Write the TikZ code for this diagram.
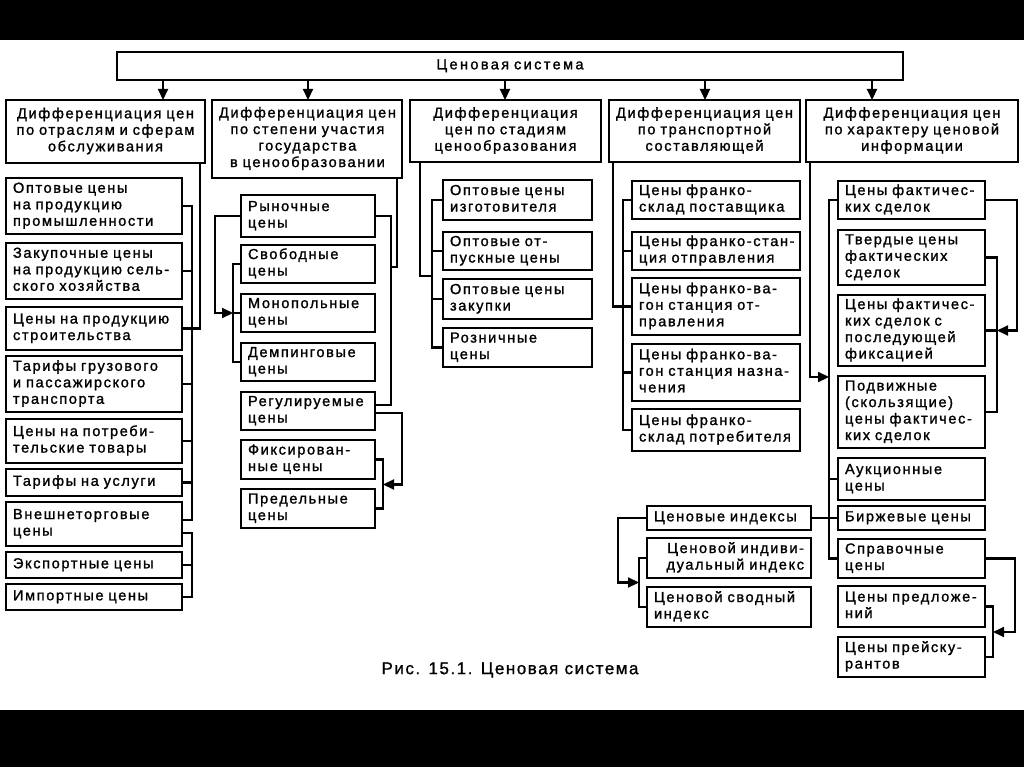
\documentclass[tikz,border=0pt]{standalone}
\usepackage{fontspec}
\setmainfont{Liberation Sans}[LetterSpace=11,FakeBold=1.3]
\newfontfamily\capfont{Liberation Sans}[LetterSpace=9,FakeBold=1]
\newfontfamily\titfont{Liberation Sans}[LetterSpace=16,FakeBold=1.3]
\usetikzlibrary{arrows.meta}
\tikzset{
  box/.style={draw, line width=2.4pt, inner xsep=7pt, inner ysep=2pt, outer sep=0pt,
    font=\fontsize{14.6pt}{16.5pt}\selectfont},
  conn/.style={line width=2.1pt},
  arr/.style={conn, -{Triangle[length=11pt,width=10pt]}},
}
\newcommand\Bx[8]{%
  \pgfmathsetmacro\bw{#4-#2}%
  \pgfmathsetmacro\bh{#5-#3}%
  \pgfmathsetmacro\tw{#4-#2-14}%
  \node[box,align=#6,text width=\tw pt,minimum width=\bw pt,minimum height=\bh pt,anchor=north west]
    (#1) at (#2,#3) {\begin{tabular}{@{}#7@{}}#8\end{tabular}};}
\begin{document}
\begin{tikzpicture}[x=1pt,y=-1pt]
\useasboundingbox (0,0) rectangle (1024,767);
\fill[black] (0,0) rectangle (1024,40);
\fill[black] (0,710) rectangle (1024,767);

\Bx{title}{117}{52}{903}{80}{center}{c}{\titfont Ценовая система}
\Bx{h1}{6}{100}{205}{163}{center}{c}{Дифференциация цен\\по отраслям и сферам\\обслуживания}
\Bx{h2}{212}{100}{402}{178}{center}{c}{Дифференциация цен\\по степени участия\\государства\\в ценообразовании}
\Bx{h3}{410}{100}{601}{162}{center}{c}{Дифференциация\\цен по стадиям\\ценообразования}
\Bx{h4}{609}{100}{800}{162}{center}{c}{Дифференциация цен\\по транспортной\\составляющей}
\Bx{h5}{806}{100}{1018}{162}{center}{c}{Дифференциация цен\\по характеру ценовой\\информации}

% column 1
\Bx{c1a}{6}{178}{182}{234}{left}{l}{Оптовые цены\\на продукцию\\промышленности}
\Bx{c1b}{6}{243}{182}{299}{left}{l}{Закупочные цены\\на продукцию сель-\\ского хозяйства}
\Bx{c1c}{6}{307}{182}{350}{left}{l}{Цены на продукцию\\строительства}
\Bx{c1d}{6}{356}{182}{412}{left}{l}{Тарифы грузового\\и пассажирского\\транспорта}
\Bx{c1e}{6}{419}{182}{463}{left}{l}{Цены на потреби-\\тельские товары}
\Bx{c1f}{6}{469}{182}{496}{left}{l}{Тарифы на услуги}
\Bx{c1g}{6}{502}{182}{546}{left}{l}{Внешнеторговые\\цены}
\Bx{c1h}{6}{552}{182}{578}{left}{l}{Экспортные цены}
\Bx{c1i}{6}{584}{182}{610}{left}{l}{Импортные цены}

% column 2
\Bx{c2a}{241}{195}{375}{237}{left}{l}{Рыночные\\цены}
\Bx{c2b}{241}{245}{375}{283}{left}{l}{Свободные\\цены}
\Bx{c2c}{241}{294}{375}{332}{left}{l}{Монопольные\\цены}
\Bx{c2d}{241}{343}{375}{381}{left}{l}{Демпинговые\\цены}
\Bx{c2e}{241}{392}{375}{430}{left}{l}{Регулируемые\\цены}
\Bx{c2f}{241}{440}{375}{479}{left}{l}{Фиксирован-\\ные цены}
\Bx{c2g}{241}{489}{375}{528}{left}{l}{Предельные\\цены}

% column 3
\Bx{c3a}{443}{180}{592}{220}{left}{l}{Оптовые цены\\изготовителя}
\Bx{c3b}{443}{232}{592}{270}{left}{l}{Оптовые от-\\пускные цены}
\Bx{c3c}{443}{279}{592}{319}{left}{l}{Оптовые цены\\закупки}
\Bx{c3d}{443}{328}{592}{367}{left}{l}{Розничные\\цены}

% column 4
\Bx{c4a}{632}{181}{800}{219}{left}{l}{Цены франко-\\склад поставщика}
\Bx{c4b}{632}{232}{800}{270}{left}{l}{Цены франко-стан-\\ция отправления}
\Bx{c4c}{632}{278}{800}{335}{left}{l}{Цены франко-ва-\\гон станция от-\\правления}
\Bx{c4d}{632}{344}{800}{401}{left}{l}{Цены франко-ва-\\гон станция назна-\\чения}
\Bx{c4e}{632}{409}{800}{451}{left}{l}{Цены франко-\\склад потребителя}

% indices
\Bx{ix}{647}{506}{811}{530}{left}{l}{Ценовые индексы}
\Bx{ixa}{647}{538}{811}{578}{right}{r}{Ценовой индиви-\\дуальный индекс}
\Bx{ixb}{647}{587}{811}{627}{left}{l}{Ценовой сводный\\индекс}

% column 5
\Bx{c5a}{838}{181}{985}{219}{left}{l}{Цены фактичес-\\ких сделок}
\Bx{c5b}{838}{230}{985}{285}{left}{l}{Твердые цены\\фактических\\сделок}
\Bx{c5c}{838}{295}{985}{366}{left}{l}{Цены фактичес-\\ких сделок с\\последующей\\фиксацией}
\Bx{c5d}{838}{376}{985}{448}{left}{l}{Подвижные\\(скользящие)\\цены фактичес-\\ких сделок}
\Bx{c5e}{838}{458}{985}{500}{left}{l}{Аукционные\\цены}
\Bx{c5f}{838}{506}{985}{530}{left}{l}{Биржевые цены}
\Bx{c5g}{838}{539}{985}{578}{left}{l}{Справочные\\цены}
\Bx{c5h}{838}{586}{985}{627}{left}{l}{Цены предложе-\\ний}
\Bx{c5i}{838}{637}{985}{677}{left}{l}{Цены прейску-\\рантов}

\node[font=\capfont\fontsize{17pt}{20pt}\selectfont] (cap) at (510,670) {Рис. 15.1. Ценовая система};

% top arrows
\foreach \n/\x in {h1/163,h2/308,h3/505,h4/705,h5/872}
  \draw[arr] (title.south -| \x,0) -- (\n.north -| \x,0);

% column 1 connectors
\draw[conn] (c1a.east) -- ++(10,0) |- ([yshift=4pt]c1g.east);
\foreach \n in {c1b,c1c,c1d,c1e,c1f} \draw[conn] (\n.east) -- ++(10,0);
\draw[conn] ([xshift=-5pt]h1.south east) |- (c1c.east);
\draw[conn] ([yshift=-9pt]c1g.east) -- ++(10,0) |- (c1i.east);
\draw[conn] (c1h.east) -- ++(10,0);

% column 2 connectors
\coordinate (j2) at (391,267);
\draw[conn] (c2a.east) -- ++(16,0) |- ([yshift=6pt]c2e.east);
\draw[conn] ([xshift=-5pt]h2.south east) |- (j2);
\draw[arr] (c2a.west) -- ++(-26,0) |- ([xshift=-8pt]c2c.west);
\draw[conn] (c2b.west) -- ++(-8,0) |- (c2d.west);
\draw[conn] (c2c.west) -- ++(-8,0);
\coordinate (j3) at (383,484.5);
\draw[arr] ([yshift=-2pt]c2e.east) -- ++(27,0) |- (j3);
\draw[conn] (c2f.east) -- ++(8,0) |- (c2g.east);

% column 3 connectors
\draw[conn] (c3a.west) -- ++(-11,0) |- (c3d.west);
\foreach \n in {c3b,c3c} \draw[conn] (\n.west) -- ++(-11,0);
\coordinate (j4) at (432,276);
\draw[conn] ([xshift=10pt]h3.south west) |- (j4);

% column 4 connectors
\draw[conn] (c4a.west) -- ++(-9,0) |- (c4e.west);
\foreach \n in {c4b,c4d} \draw[conn] (\n.west) -- ++(-9,0);
\draw[conn] ([xshift=4pt]h4.south west) |- (c4c.west);

% indices connectors
\coordinate (j5) at (639,582.5);
\draw[arr] (ix.west) -- ++(-29,0) |- (j5);
\draw[conn] (ixa.west) -- ++(-8,0) |- (ixb.west);
\draw[conn] (ix.east) -- (c5f.west);

% column 5 connectors
\draw[conn] (c5a.west) -- ++(-9,0) |- (c5g.west);
\draw[conn] (c5e.west) -- ++(-9,0);
\coordinate (j6) at (829,377);
\draw[arr] ([xshift=4pt]h5.south west) |- (j6);
\coordinate (j7) at (997,330.5);
\draw[arr] (c5a.east) -- ++(32,0) |- (j7);
\draw[conn] (c5b.east) -- ++(12,0) |- (c5d.east);
\draw[conn] (c5c.east) -- ++(12,0);
\coordinate (j8) at (993,632);
\draw[arr] (c5g.east) -- ++(30,0) |- (j8);
\draw[conn] (c5h.east) -- ++(8,0) |- (c5i.east);
\end{tikzpicture}
\end{document}
